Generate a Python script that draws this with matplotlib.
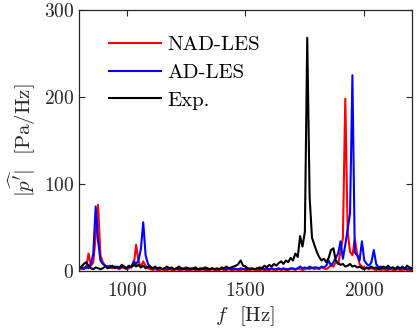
import numpy as np
import matplotlib
matplotlib.use('Agg')
import matplotlib.pyplot as plt

plt.rcParams['font.family'] = 'serif'
plt.rcParams['font.serif'] = ['cmr10']
plt.rcParams['mathtext.fontset'] = 'cm'
plt.rcParams['axes.formatter.use_mathtext'] = True

# frequency grid [Hz]
freq = np.arange(800, 2201, 10)

# Experiment
exp_vals = [
    3, 5, 8, 10, 6, 3, 2, 4, 3, 2,
    3, 5, 3, 4, 6, 3, 5, 4, 7, 5,
    3, 6, 4, 8, 5, 7, 4, 6, 3, 5,
    4, 3, 5, 3, 4, 2, 3, 5, 3, 4,
    2, 3, 5, 3, 2, 4, 3, 2, 3, 4,
    2, 3, 2, 4, 3, 2, 3, 2, 3, 2,
    4, 3, 5, 3, 4, 5, 6, 8, 12, 6,
    5, 3, 2, 3, 2, 3, 4, 3, 6, 4,
    7, 5, 8, 6, 9, 11, 8, 12, 10, 15,
    12, 20, 16, 40, 28, 45, 268, 85, 38, 30,
    22, 16, 12, 14, 10, 15, 24, 26, 12, 9,
    7, 8, 5, 6, 8, 5, 6, 4, 5, 3,
    2, 4, 3, 5, 3, 4, 2, 3, 5, 3,
    6, 3, 4, 2, 5, 3, 4, 2, 6, 4,
    3,
]

# NAD-LES
nad_vals = [
    3, 2, 4, 3, 20, 6, 10, 40, 76, 18,
    10, 6, 5, 4, 3, 5, 3, 2, 4, 3,
    2, 3, 5, 6, 30, 12, 4, 11, 6, 3,
    2, 1, 2, 1, 1, 2, 1, 1, 2, 1,
    1, 2, 1, 1, 2, 1, 1, 1, 2, 1,
    1, 1, 2, 1, 1, 1, 2, 1, 1, 1,
    2, 1, 1, 2, 1, 1, 2, 1, 1, 2,
    1, 1, 1, 2, 1, 1, 1, 2, 1, 1,
    1, 2, 1, 1, 2, 1, 2, 1, 1, 2,
    2, 1, 3, 2, 1, 2, 3, 2, 4, 2,
    3, 2, 4, 3, 2, 4, 6, 5, 10, 8,
    22, 38, 198, 45, 22, 18, 36, 20, 8, 5,
    4, 3, 2, 3, 2, 1, 2, 1, 2, 1,
    1, 2, 1, 1, 2, 1, 1, 2, 1, 1,
    1,
]

# AD-LES
ad_vals = [
    3, 4, 2, 5, 3, 8, 20, 74, 35, 12,
    8, 6, 5, 6, 4, 5, 4, 3, 5, 4,
    3, 4, 5, 11, 8, 12, 25, 56, 18, 8,
    5, 3, 4, 2, 3, 2, 3, 2, 2, 3,
    2, 3, 2, 2, 3, 2, 2, 3, 2, 2,
    2, 2, 3, 2, 2, 2, 3, 2, 2, 2,
    3, 2, 2, 3, 2, 3, 2, 2, 3, 2,
    2, 2, 3, 2, 2, 3, 2, 2, 2, 3,
    2, 3, 2, 2, 3, 2, 3, 2, 2, 3,
    3, 2, 3, 5, 3, 4, 3, 5, 3, 4,
    4, 3, 5, 4, 6, 12, 6, 10, 15, 20,
    34, 14, 30, 48, 66, 225, 21, 18, 12, 34,
    12, 8, 6, 10, 24, 8, 4, 5, 3, 4,
    2, 3, 4, 2, 3, 2, 5, 3, 2, 3,
    2,
]

fig = plt.figure(figsize=(4.16, 3.32), dpi=100)
ax = fig.add_axes([0.190, 0.184, 0.800, 0.786])

ax.plot(freq, nad_vals, color=(1, 0, 0), lw=1.5, label='NAD-LES')
ax.plot(freq, ad_vals, color=(0, 0, 1), lw=1.5, label='AD-LES')
ax.plot(freq, exp_vals, color='k', lw=1.5, label='Exp.')

ax.set_xlim(800, 2200)
ax.set_ylim(0, 300)
ax.set_xticks([1000, 1500, 2000])
ax.set_yticks([0, 100, 200, 300])
ax.tick_params(direction='in', top=True, right=True, labelsize=14,
               length=4, width=0.8, color='#262626', labelcolor='#262626')
ax.tick_params(axis='x', pad=8)
for s in ax.spines.values():
    s.set_color('#262626')
    s.set_linewidth(0.9)

ax.set_xlabel(r'$f$  [Hz]', fontsize=15, color='#262626', labelpad=3)
ax.set_ylabel(r"$|\widehat{p'}|$  [Pa/Hz]", fontsize=15, color='#262626', labelpad=4)

ax.legend(loc='upper left', bbox_to_anchor=(0.065, 0.935), frameon=False,
          fontsize=15, handlelength=2.5, handletextpad=0.3, labelspacing=0.45,
          borderaxespad=0.0)

fig.savefig('out.png', dpi=100)
